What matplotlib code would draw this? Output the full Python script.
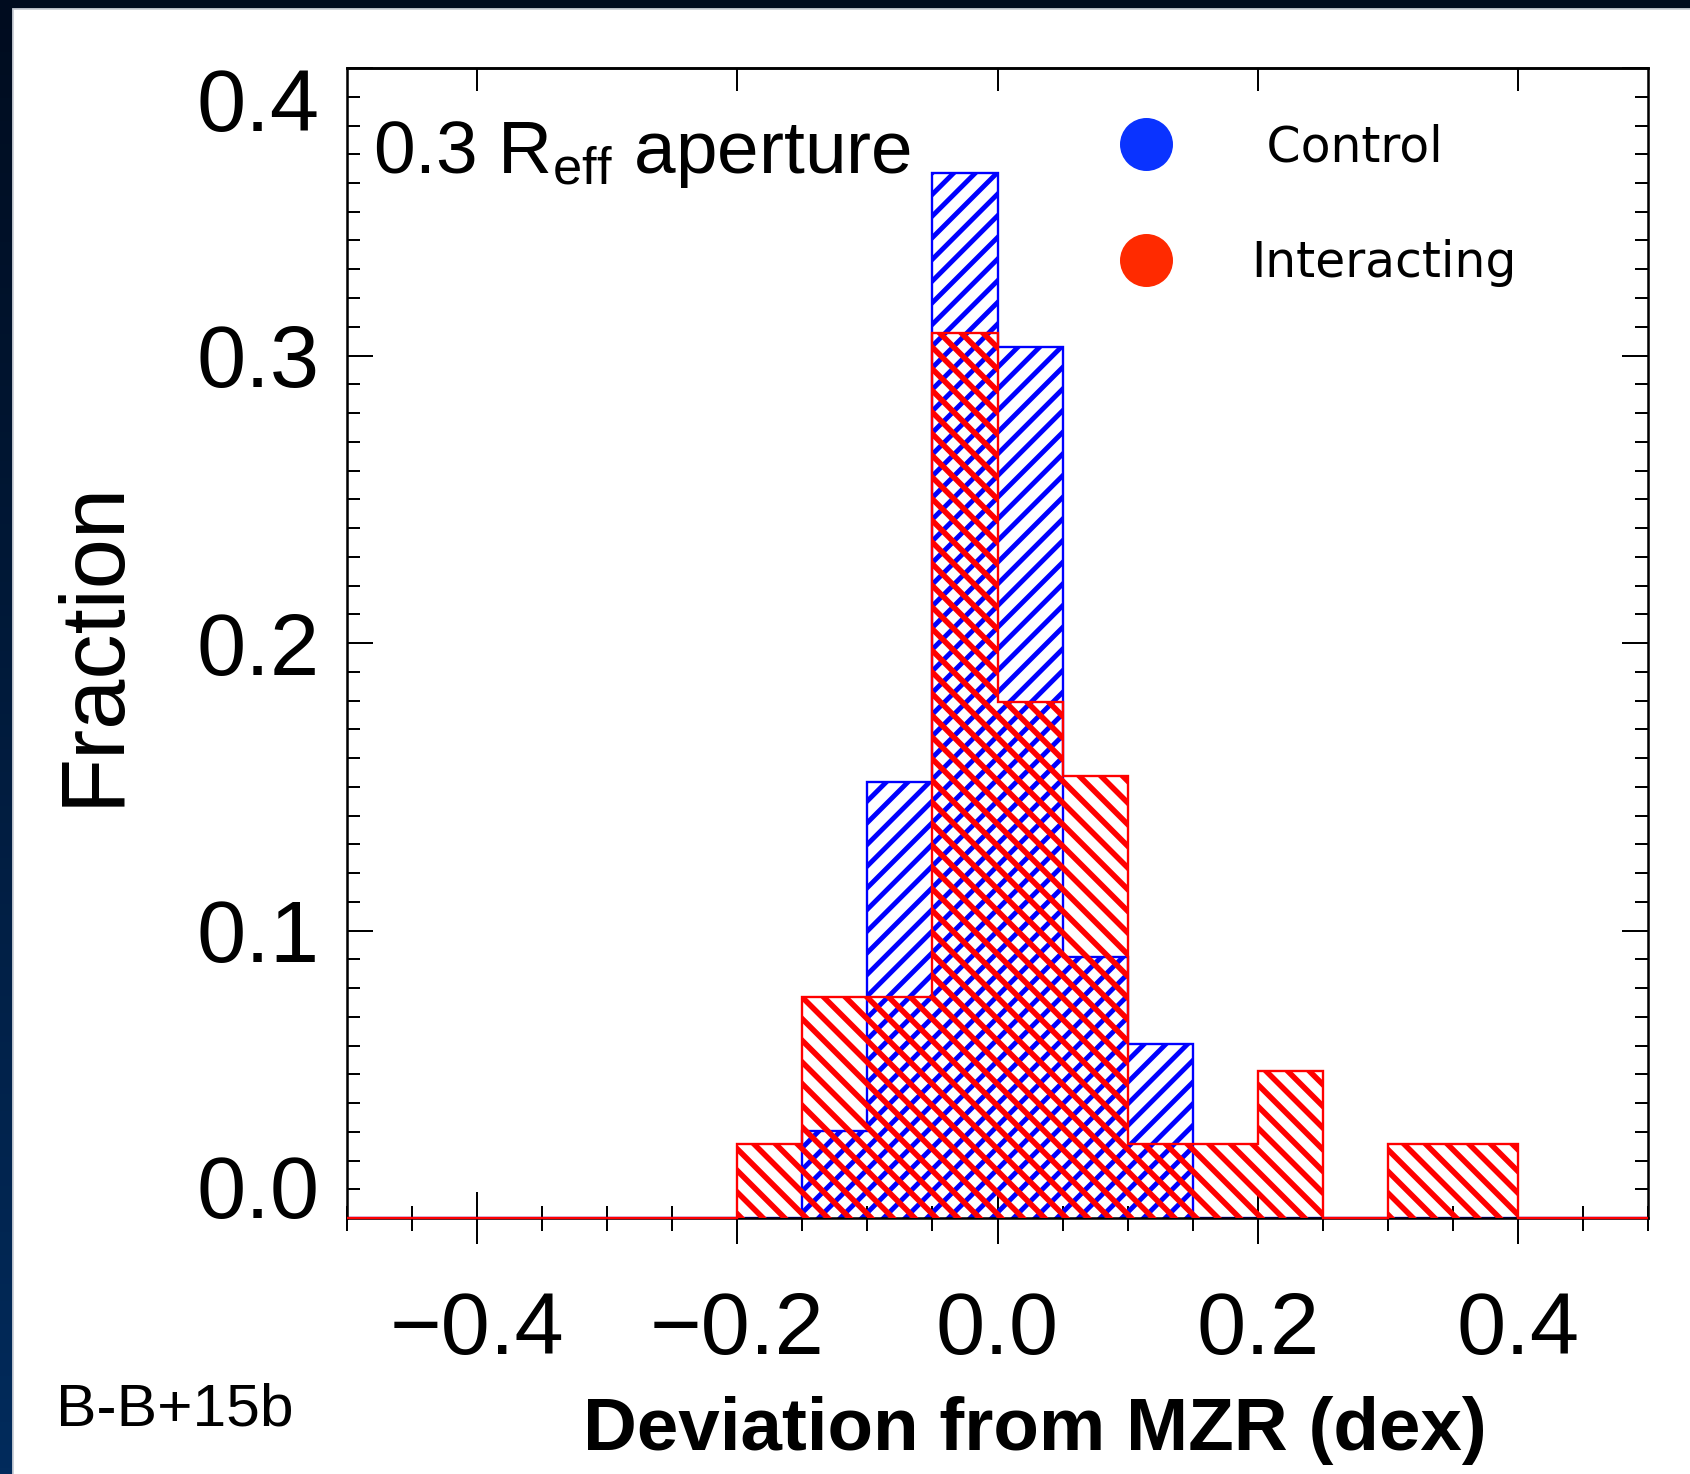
import numpy as np
import matplotlib
matplotlib.use("Agg")
import matplotlib.pyplot as plt
from matplotlib.lines import Line2D
from matplotlib.patches import Rectangle
from matplotlib.ticker import MultipleLocator, NullLocator
from matplotlib.transforms import ScaledTranslation
from matplotlib.colors import LinearSegmentedColormap

# ---------------- data ----------------
bin_edges = [-0.50, -0.45, -0.40, -0.35, -0.30, -0.25, -0.20, -0.15, -0.10, -0.05,
             0.00, 0.05, 0.10, 0.15, 0.20, 0.25, 0.30, 0.35, 0.40, 0.45, 0.50]
control_frac = [0, 0, 0, 0, 0, 0, 0, 0.0303, 0.1515, 0.3636,
                0.3030, 0.0909, 0.0606, 0, 0, 0, 0, 0, 0, 0]
interacting_frac = [0, 0, 0, 0, 0, 0, 0.0256, 0.0769, 0.0769, 0.3077,
                    0.1795, 0.1538, 0.0256, 0.0256, 0.0513, 0, 0.0256, 0.0256, 0, 0]
series_names = [" Control", "Interacting"]
series_colors = ["#0000ff", "#ff0000"]
legend_colors = ["#0a33ff", "#ff2a00"]
x_ticks = [-0.4, -0.2, 0.0, 0.2, 0.4]
x_ticklabels = ["\u22120.4", "\u22120.2", "0.0", "0.2", "0.4"]
y_ticks = [0.0, 0.1, 0.2, 0.3, 0.4]
y_ticklabels = ["0.0", "0.1", "0.2", "0.3", "0.4"]

DPI = 130
W, H = 1690, 1474
plt.rcParams["font.family"] = ["Liberation Sans", "DejaVu Sans"]
plt.rcParams["mathtext.fontset"] = "custom"
plt.rcParams["mathtext.rm"] = "Liberation Sans"
plt.rcParams["mathtext.it"] = "Liberation Sans:italic"
plt.rcParams["mathtext.bf"] = "Liberation Sans:bold"
plt.rcParams["hatch.linewidth"] = 2.9

fig = plt.figure(figsize=(W / DPI, H / DPI), dpi=DPI)

# background frame
bg = fig.add_axes([0, 0, 1, 1], zorder=-10)
bg.set_axis_off()
grad = np.linspace(0, 1, 256).reshape(-1, 1)
cmap = LinearSegmentedColormap.from_list("bg", ["#000c1f", "#022b5c"])
bg.imshow(grad, aspect="auto", cmap=cmap, extent=[0, 1, 0, 1], origin="upper")
bg.add_patch(Rectangle((13 / W, -0.01), 1.0, 1.01 - 9 / H, facecolor="white",
                       edgecolor="#c9ced6", lw=1.0))
bg.set_xlim(0, 1)
bg.set_ylim(0, 1)

ax = fig.add_axes([347 / W, 256 / H, 1301 / W, 1150 / H])
ax.set_facecolor("white")

for vals, col, hatch, hlw, z in zip([control_frac, interacting_frac], series_colors,
                                    ["//", "\\\\"], [2.7, 3.1], [2, 3]):
    sp = ax.stairs(vals, bin_edges, fill=True, facecolor="none", edgecolor=col,
                   hatch=hatch, linewidth=1.3, zorder=z, clip_on=False)
    if hasattr(sp, "set_hatch_linewidth"):
        sp.set_hatch_linewidth(hlw)

ax.set_xlim(-0.5, 0.5)
ax.set_ylim(0.0, 0.4)

for s in ax.spines.values():
    s.set_linewidth(1.4)

px = 72 / DPI
ax.set_xticks(x_ticks)
ax.set_xticklabels(x_ticklabels)
ax.xaxis.set_minor_locator(MultipleLocator(0.05))
ax.tick_params(axis="x", which="major", direction="inout", length=52 * px, width=1.1,
               pad=26, labelsize=49, top=False, bottom=True)
ax.tick_params(axis="x", which="minor", direction="inout", length=25 * px, width=1.1,
               top=False, bottom=True)

ax.set_yticks(y_ticks)
ax.set_yticklabels(y_ticklabels)
ax.yaxis.set_minor_locator(MultipleLocator(0.01))
ax.tick_params(axis="y", which="major", direction="in", length=26 * px, width=1.1,
               pad=15, labelsize=49, left=True, right=True)
ax.tick_params(axis="y", which="minor", direction="in", length=13 * px, width=1.1,
               left=True, right=True)

sec = ax.secondary_xaxis("top")
sec.set_xticks(x_ticks)
sec.xaxis.set_minor_locator(NullLocator())
sec.tick_params(axis="x", direction="in", length=23 * px, width=1.1, labeltop=False)
sec.spines["top"].set_linewidth(1.4)

# end labels kept inside the axis range
fs = 49
for lab in ax.get_yticklabels():
    if lab.get_text() == "0.0":
        lab.set_va("baseline")
    elif lab.get_text() == "0.4":
        lab.set_va("baseline")
        lab.set_transform(lab.get_transform() +
                          ScaledTranslation(0, -0.716 * fs / 72, fig.dpi_scale_trans))

ax.set_ylabel("Fraction", fontsize=50)
ax.yaxis.set_label_coords(-0.162, 0.5)
ax.set_xlabel("Deviation from MZR (dex)", fontsize=41.3, fontweight="bold")
ax.xaxis.set_label_coords(0.529, -0.155)

ax.text(0.02, 0.909, r"0.3 R$_{\rm eff}$ aperture", transform=ax.transAxes,
        fontsize=41.5, ha="left", va="baseline")

handles = [Line2D([], [], ls="none", marker="o", ms=53 * px, mfc=c, mec="none")
           for c in legend_colors]
ax.legend(handles, series_names, loc="upper left", bbox_to_anchor=(0.5957, 0.952),
          frameon=False, borderpad=0, borderaxespad=0, handlelength=1.0,
          handletextpad=1.65, labelspacing=1.4,
          prop={"family": "DejaVu Sans", "size": 27})

fig.text(56 / W, (H - 1425) / H, "B-B+15b", fontsize=33.5, ha="left", va="baseline")

fig.savefig("out.png", dpi=DPI)
